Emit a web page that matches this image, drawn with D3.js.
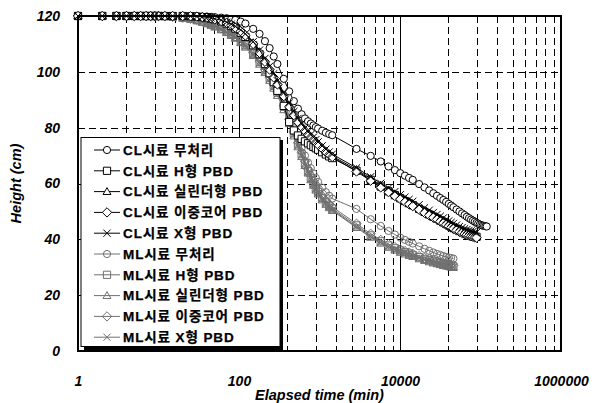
<!DOCTYPE html>
<html>
<head>
<meta charset="utf-8">
<script src="https://cdn.jsdelivr.net/npm/d3@7"></script>
<style>
  body { margin: 0; background: #fff; }
  text { font-family: "Liberation Sans", Arial, "Noto Sans CJK KR", sans-serif; }
</style>
</head>
<body>
<div id="chart"></div>
<script>
// elapsed time (min): dense until 1 day, then daily readings
var times = [
  1, 2, 3, 4, 5, 6, 7, 8, 9, 10,
  12, 15, 20, 25, 30, 35, 40, 45, 50, 60,
  70, 80, 90, 105, 120, 150, 180, 210, 240, 270,
  300, 360, 420, 480, 540, 600, 660, 720, 780, 840,
  900, 960, 1080, 1200, 1320, 1440,
  2880, 4320, 5760, 7200, 8640, 10080, 11520, 12960, 14400,
  17280, 20160, 23040, 25920, 28800, 31680, 34560, 37440, 40320, 43200, 46080,
  50400, 54720, 59040, 63360, 67680, 72000, 76320, 80640, 84960, 89280,
  93600, 97920, 102240, 106560, 110880, 115200, 119520
];

// height (cm)
var clNone = [
  120, 120, 120, 120, 120, 120, 120, 120, 120, 120,
  120, 120, 120, 119.9, 119.9, 119.8, 119.8, 119.7, 119.6, 119.4,
  119.2, 118.9, 118.6, 118, 117.3, 115.4, 113.6, 111, 108.5, 105.5,
  102.8, 97.5, 93, 89.5, 86.8, 84.8, 83.3, 82.3, 81.5, 80.8,
  80.2, 79.7, 78.9, 78.2, 77.7, 77.3,
  72.4, 69.9, 67.9, 66.1, 64.8, 63.7, 62.8, 62, 61.3,
  59.8, 58.6, 57.5, 56.5, 55.6, 54.8, 54.1, 53.4, 52.7, 52.1, 51.5,
  50.7, 50, 49.3, 48.7, 48.1, 47.6, 47.1, 46.7, 46.3, 45.9,
  45.6, 45.3, 45.1, 44.9, 44.8, 44.7, 44.6
];
var clH = [
  120, 120, 120, 120, 120, 120, 120, 120, 120, 120,
  120, 120, 120, 119.9, 119.8, 119.6, 119.4, 119.1, 118.8, 118.1,
  117.3, 116.4, 115.5, 114, 112.5, 109.5, 106.3, 102.8, 99.5, 96.3,
  93.2, 87.8, 82, 79, 77.2, 76, 75.1, 74.4, 73.7, 73.1,
  72.6, 72.1, 71.2, 70.4, 69.7, 69.1,
  64.6, 61.3, 58.9, 57.2, 55.8, 54.7, 53.7, 52.9, 52.2,
  50.9, 49.8, 48.9, 48.1, 47.4, 46.7, 46.1, 45.5, 45, 44.5, 44.1,
  43.5, 43, 42.6, 42.2, 41.9, 41.6, 41.4, 41.2, 41, 40.9
];
var clCyl = [
  120, 120, 120, 120, 120, 120, 120, 120, 120, 120,
  120, 120, 120, 119.9, 119.8, 119.7, 119.5, 119.2, 119, 118.4,
  117.7, 117, 116.1, 114.8, 113.4, 110.4, 107.2, 104, 101.2, 98.4,
  96, 91.8, 88, 85, 82.5, 80.6, 79.1, 77.8, 76.8, 75.9,
  75, 74.2, 72.8, 71.6, 70.6, 69.8,
  65, 61.8, 59.4, 57.7, 56.3, 55.2, 54.2, 53.4, 52.7,
  51.4, 50.3, 49.4, 48.6, 47.9, 47.2, 46.6, 46, 45.5, 45, 44.6,
  44, 43.5, 43.1, 42.7, 42.4, 42.1, 41.9, 41.7, 41.5, 41.4
];
var clCore = [
  120, 120, 120, 120, 120, 120, 120, 120, 120, 120,
  120, 120, 120, 119.9, 119.8, 119.6, 119.4, 119.1, 118.8, 118.2,
  117.5, 116.7, 115.8, 114.5, 113, 110, 106.8, 103.6, 100.8, 98,
  95.5, 91.3, 87.5, 84.5, 82, 80.2, 78.8, 77.5, 76.5, 75.6,
  74.7, 73.9, 72.5, 71.3, 70.3, 69.5,
  64.3, 61, 58.6, 56.9, 55.5, 54.4, 53.4, 52.6, 51.9,
  50.6, 49.5, 48.6, 47.8, 47.1, 46.4, 45.8, 45.2, 44.7, 44.2, 43.8,
  43.2, 42.7, 42.3, 41.9, 41.6, 41.3, 41.1, 40.9, 40.7, 40.6
];
var clX = [
  120, 120, 120, 120, 120, 120, 120, 120, 120, 120,
  120, 120, 120, 119.9, 119.8, 119.7, 119.5, 119.3, 119, 118.5,
  117.8, 117.1, 116.3, 115, 113.6, 110.8, 107.8, 104.8, 102, 99.3,
  96.8, 92.5, 88.8, 85.8, 83.3, 81.4, 79.9, 78.6, 77.5, 76.6,
  75.7, 74.9, 73.5, 72.3, 71.3, 70.5,
  65.6, 62.4, 60.1, 58.4, 57.1, 56, 55.1, 54.3, 53.6,
  52.4, 51.3, 50.4, 49.6, 48.9, 48.3, 47.7, 47.1, 46.6, 46.1, 45.7,
  45.1, 44.6, 44.2, 43.8, 43.5, 43.2, 43, 42.8, 42.6, 42.5
];
var mlNone = [
  120, 120, 120, 120, 120, 120, 120, 120, 120, 120,
  120, 119.8, 119.5, 119.2, 118.8, 118.4, 118, 117.5, 117, 116.1,
  115.2, 114.3, 113.4, 112, 110.6, 107.7, 104.8, 101.8, 99, 96.3,
  93.8, 88.8, 84, 79.8, 76, 72.8, 70, 67.5, 65.5, 63.6,
  62, 60.6, 58.5, 56.9, 55.6, 54.6,
  50.9, 47.2, 44.8, 43, 41.7, 40.6, 39.8, 39.1, 38.5,
  37.5, 36.6, 35.9, 35.3, 34.8, 34.4, 34, 33.7, 33.5, 33.3, 33.1
];
var mlH = [
  120, 120, 120, 120, 120, 120, 120, 120, 120, 120,
  119.9, 119.7, 119.4, 119, 118.5, 118, 117.5, 117, 116.5, 115.5,
  114.5, 113.5, 112.5, 111, 109.5, 106.5, 103.5, 100.5, 97.8, 95,
  92.5, 87.5, 82.5, 78, 74, 70.5, 67.2, 64.4, 62, 60,
  58.3, 56.9, 54.8, 53.2, 52, 51,
  45, 41.4, 39.3, 37.8, 36.8, 36, 35.4, 34.9, 34.4,
  33.6, 33, 32.5, 32.1, 31.7, 31.4, 31.1, 30.9, 30.7, 30.5, 30.3
];
var mlCyl = [
  120, 120, 120, 120, 120, 120, 120, 120, 120, 120,
  119.9, 119.6, 119.2, 118.8, 118.3, 117.7, 117.2, 116.6, 116, 115,
  114, 113, 112, 110.4, 108.8, 105.8, 102.7, 99.7, 96.9, 94.1,
  91.5, 86.4, 81.4, 77, 73.1, 69.6, 66.4, 63.7, 61.3, 59.3,
  57.6, 56.2, 54.1, 52.5, 51.3, 50.3,
  44.2, 40.7, 38.6, 37.1, 36.1, 35.3, 34.7, 34.2, 33.8,
  33, 32.4, 31.9, 31.5, 31.2, 30.9, 30.6, 30.4, 30.2, 30, 29.9
];
var mlCore = [
  120, 120, 120, 120, 120, 120, 120, 120, 120, 120,
  119.9, 119.7, 119.4, 119, 118.6, 118.1, 117.6, 117.1, 116.6, 115.6,
  114.6, 113.7, 112.7, 111.2, 109.8, 106.8, 103.8, 100.9, 98.1, 95.4,
  92.9, 87.9, 83, 78.6, 74.6, 71.2, 68, 65.2, 62.8, 60.8,
  59.1, 57.6, 55.5, 53.9, 52.6, 51.6,
  45.6, 42, 39.8, 38.3, 37.2, 36.4, 35.8, 35.3, 34.8,
  34, 33.4, 32.9, 32.5, 32.1, 31.8, 31.5, 31.3, 31.1, 30.9, 30.7
];
var mlX = [
  120, 120, 120, 120, 120, 120, 120, 120, 120, 120,
  119.9, 119.6, 119.3, 118.9, 118.4, 117.9, 117.3, 116.8, 116.2, 115.2,
  114.2, 113.2, 112.2, 110.7, 109.2, 106.1, 103.1, 100.1, 97.3, 94.6,
  92, 87, 82, 77.5, 73.5, 70, 66.8, 64, 61.6, 59.6,
  57.9, 56.5, 54.4, 52.8, 51.6, 50.6,
  44.5, 41, 38.9, 37.4, 36.4, 35.6, 35, 34.5, 34.1,
  33.3, 32.7, 32.2, 31.8, 31.4, 31.1, 30.8, 30.6, 30.4, 30.2, 30
];

var seriesNames = [
  "CL시료 무처리", "CL시료 H형 PBD", "CL시료 실린더형 PBD", "CL시료 이중코어 PBD", "CL시료 X형 PBD",
  "ML시료 무처리", "ML시료 H형 PBD", "ML시료 실린더형 PBD", "ML시료 이중코어 PBD", "ML시료 X형 PBD"
];
var seriesValues = [clNone, clH, clCyl, clCore, clX, mlNone, mlH, mlCyl, mlCore, mlX];

var xTicks = [1, 100, 10000, 1000000];
var xMajorGrid = [100, 10000];
var xMinorGrid = [4, 9, 16, 25, 36, 49, 64, 81,
                  400, 900, 1600, 2500, 3600, 4900, 6400, 8100,
                  40000, 90000, 160000, 250000, 360000, 490000, 640000, 810000];
var yTicks = [0, 20, 40, 60, 80, 100, 120];

var svgWidth = 597, svgHeight = 403;
var plot = { left: 78, right: 561, top: 16, bottom: 351 };
var gray = "#707070";

var svg = d3.select("#chart").append("svg")
  .attr("width", svgWidth)
  .attr("height", svgHeight)
  .style("background", "#fff");

var x = d3.scaleLog().domain([1, 1000000]).range([plot.left, plot.right]);
var y = d3.scaleLinear().domain([0, 120]).range([plot.bottom, plot.top]);

// gridlines
var grid = svg.append("g").attr("stroke", "#000").attr("stroke-width", 1);
grid.selectAll("line.hg")
  .data(yTicks.filter(d => d > 0 && d < 120))
  .enter().append("line")
  .attr("x1", plot.left).attr("x2", plot.right)
  .attr("y1", d => Math.round(y(d)) + 0.5).attr("y2", d => Math.round(y(d)) + 0.5)
  .attr("stroke-dasharray", "7,4");
grid.selectAll("line.vminor")
  .data(xMinorGrid)
  .enter().append("line")
  .attr("x1", d => Math.round(x(d)) + 0.5).attr("x2", d => Math.round(x(d)) + 0.5)
  .attr("y1", plot.top).attr("y2", plot.bottom)
  .attr("stroke-dasharray", "7,4");
grid.selectAll("line.vmajor")
  .data(xMajorGrid)
  .enter().append("line")
  .attr("x1", d => Math.round(x(d)) + 0.5).attr("x2", d => Math.round(x(d)) + 0.5)
  .attr("y1", plot.top).attr("y2", plot.bottom);

// marker shapes (Excel-like)
var shapes = [
  { draw: function(c, s) { c.arc(0, 0, s, 0, 2 * Math.PI); } },
  { draw: function(c, s) { c.rect(-s, -s, 2 * s, 2 * s); } },
  { draw: function(c, s) { c.moveTo(0, -s * 1.1); c.lineTo(s * 1.1, s * 0.8); c.lineTo(-s * 1.1, s * 0.8); c.closePath(); } },
  { draw: function(c, s) { var r = s * 1.3; c.moveTo(0, -r); c.lineTo(r, 0); c.lineTo(0, r); c.lineTo(-r, 0); c.closePath(); } },
  { draw: function(c, s) { c.moveTo(-s, -s); c.lineTo(s, s); c.moveTo(s, -s); c.lineTo(-s, s); } }
];
function markerPath(i) {
  return d3.symbol().type(shapes[i % 5]).size(3.6)();
}

var line = d3.line()
  .x(d => x(d[0]))
  .y(d => y(d[1]));

// ML (gray) first, CL (black) on top
var drawOrder = [5, 6, 7, 8, 9, 0, 1, 2, 3, 4];
drawOrder.forEach(function(si) {
  var vals = seriesValues[si];
  var pts = vals.map((v, i) => [times[i], v]);
  var isCL = si < 5;
  var col = isCL ? "#000" : gray;
  var g = svg.append("g");
  g.append("path")
    .datum(pts)
    .attr("fill", "none")
    .attr("stroke", col)
    .attr("stroke-width", 1)
    .attr("d", line);
  g.selectAll("path.m")
    .data(pts)
    .enter().append("path")
    .attr("class", "m")
    .attr("transform", d => `translate(${x(d[0])},${y(d[1])})`)
    .attr("d", markerPath(si))
    .attr("fill", isCL && si % 5 !== 4 ? "#fff" : "none")
    .attr("stroke", col)
    .attr("stroke-width", 1);
});

// plot frame
svg.append("rect")
  .attr("x", plot.left).attr("y", plot.top)
  .attr("width", plot.right - plot.left).attr("height", plot.bottom - plot.top)
  .attr("fill", "none").attr("stroke", "#000").attr("stroke-width", 2);

// axes
var yAxis = svg.append("g")
  .attr("transform", `translate(${plot.left},0)`)
  .call(d3.axisLeft(y).tickValues(yTicks).tickSize(0).tickPadding(18).tickFormat(d3.format("d")));
var xAxis = svg.append("g")
  .attr("transform", `translate(0,${plot.bottom})`)
  .call(d3.axisBottom(x).tickValues(xTicks).tickSize(0).tickPadding(25).tickFormat(d3.format("d")));
[xAxis, yAxis].forEach(function(a) {
  a.select(".domain").remove();
  a.selectAll("text")
    .attr("font-family", "\"Liberation Sans\", Arial, sans-serif")
    .attr("font-size", 14)
    .attr("font-weight", "bold")
    .attr("font-style", "italic")
    .attr("fill", "#000");
});

// axis titles
svg.append("text")
  .attr("x", (plot.left + plot.right) / 2)
  .attr("y", 400)
  .attr("text-anchor", "middle")
  .attr("font-size", 14.5).attr("font-weight", "bold").attr("font-style", "italic")
  .text("Elapsed time (min)");
svg.append("text")
  .attr("transform", `translate(21,${(plot.top + plot.bottom) / 2}) rotate(-90)`)
  .attr("text-anchor", "middle")
  .attr("font-size", 14.5).attr("font-weight", "bold").attr("font-style", "italic")
  .text("Height (cm)");

// legend
var legend = svg.append("g");
legend.append("rect")
  .attr("x", 84).attr("y", 140).attr("width", 199).attr("height", 210)
  .attr("fill", "#000");
legend.append("rect")
  .attr("x", 81).attr("y", 137.5).attr("width", 199).attr("height", 209)
  .attr("fill", "#fff").attr("stroke", "#000").attr("stroke-width", 1);

var rows = legend.selectAll("g.row")
  .data(seriesNames)
  .enter().append("g")
  .attr("class", "row")
  .attr("transform", (d, i) => `translate(0,${150 + i * 20.8})`);
rows.append("line")
  .attr("x1", 94).attr("x2", 120)
  .attr("stroke", (d, i) => i < 5 ? "#000" : gray);
rows.append("path")
  .attr("transform", "translate(107,0)")
  .attr("d", (d, i) => markerPath(i))
  .attr("fill", (d, i) => i < 5 && i !== 4 ? "#fff" : "none")
  .attr("stroke", (d, i) => i < 5 ? "#000" : gray);
rows.append("text")
  .attr("x", 123)
  .attr("dy", "0.36em")
  .attr("font-size", 13.5)
  .attr("font-weight", "bold")
  .attr("letter-spacing", "0.9px")
  .attr("stroke", "#000")
  .attr("stroke-width", 0.25)
  .text(d => d);
</script>
</body>
</html>
